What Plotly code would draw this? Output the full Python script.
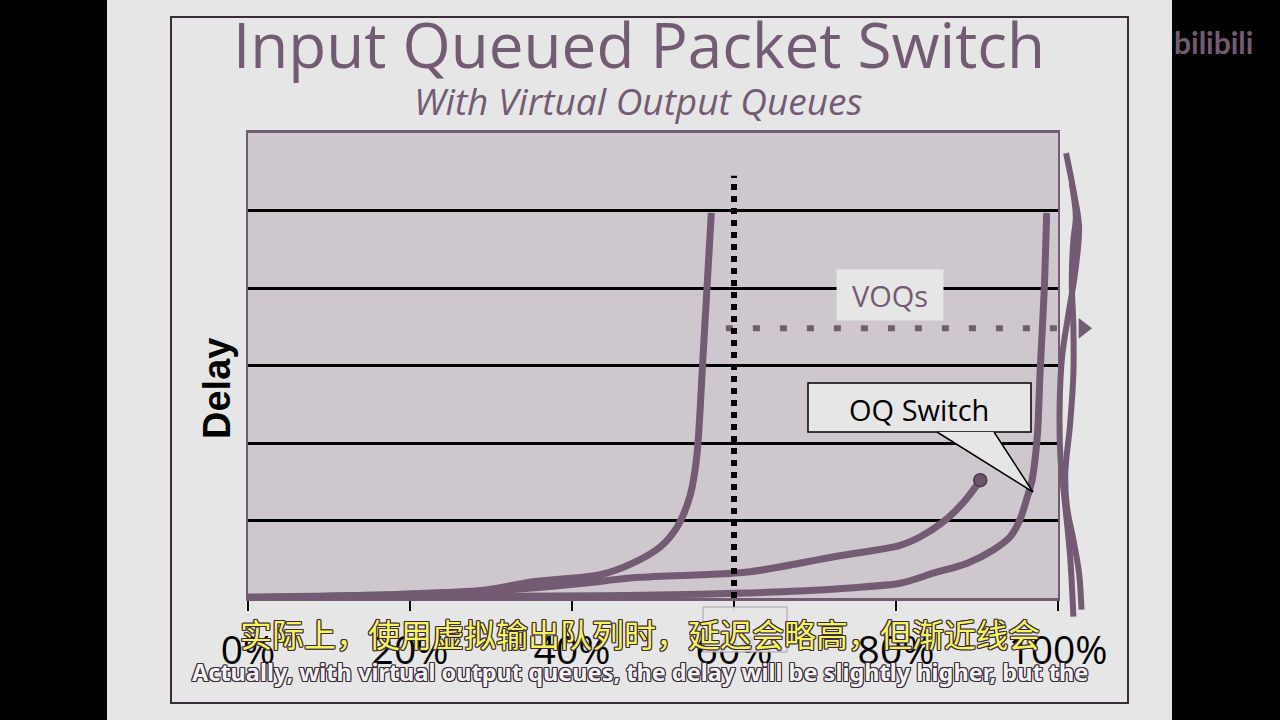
import plotly.graph_objects as go

W, H = 1280, 720
PURPLE = "#735c73"
SLIDE = "#e6e6e6"
PLOTBG = "#cec7ce"
OUTLINE = "#3a2a3a"

# ---------------- data ----------------
x_ticks = [0, 20, 40, 60, 80, 100]
x_tick_labels = ["0%", "20%", "40%", "60%", "80%", "100%"]
delay_grid = [1, 2, 3, 4, 5]

# Input queued switch with HOL blocking (load %, delay)
hol_load = [0, 18.8, 29.0, 35.2, 43.5, 47.5, 50.9, 53.0, 54.6, 55.4, 56.2, 57.2]
hol_delay = [0.01, 0.05, 0.10, 0.21, 0.30, 0.45, 0.66, 0.92, 1.33, 1.82, 3.16, 4.97]

# Input queued switch with virtual output queues
voq_load = [0, 18.8, 29.0, 35.2, 41.4, 47.5, 55.8, 62.0, 72.2, 80.5, 83.0, 85.8, 88.3, 89.8, 90.4]
voq_delay = [0.01, 0.04, 0.08, 0.13, 0.19, 0.26, 0.30, 0.34, 0.53, 0.68, 0.79, 0.98, 1.23, 1.43, 1.52]

# Output queued switch
oq_load = [0, 43.5, 55.8, 68.1, 74.3, 80.5, 84.6, 88.8, 92.0, 94.1, 95.3, 96.2, 96.8, 97.2, 97.5, 97.8, 98.3, 98.6]
oq_delay = [0.0, 0.03, 0.05, 0.09, 0.13, 0.19, 0.32, 0.45, 0.62, 0.79, 1.01, 1.30, 1.52, 1.82, 2.17, 2.94, 3.97, 4.97]

# 60% marker (dotted vertical line)
marker_load = 60
marker_top = 5.45

# VOQ asymptote arrow (dotted, drawn on the extended overlay axis)
voq_arrow_load = [59.0, 102.1]
voq_arrow_delay = [3.48, 3.48]
voq_arrow_head = [103.1]

# hand-drawn scribble strokes near 100%
scribble1_x = [101.0, 101.9, 102.6, 102.1, 101.3, 100.5, 100.2, 100.3, 100.9, 101.5, 101.9]
scribble1_y = [5.74, 5.26, 4.79, 4.19, 3.67, 3.11, 2.47, 1.82, 1.18, 0.53, -0.24]
scribble2_x = [101.7, 102.2, 101.9, 101.7, 101.9, 101.9, 101.5, 100.9, 101.1, 101.9, 102.6, 102.9]
scribble2_y = [5.35, 4.92, 4.62, 4.10, 3.50, 2.90, 2.25, 1.61, 1.18, 0.75, 0.32, -0.15]

# ---------------- layout helpers ----------------
def px(x):
    return x / W

def py(y):
    return 1 - y / H

PLOT_L, PLOT_R, PLOT_T, PLOT_B = 248, 1058, 133, 598
x_dom = [px(PLOT_L), px(PLOT_R)]
y_dom = [py(PLOT_B), py(PLOT_T)]
unit_x = (PLOT_R - PLOT_L) / 100.0
unit_y = (PLOT_B - PLOT_T) / 6.0

fig = go.Figure()

line_style = dict(color=PURPLE, width=7, shape="spline", smoothing=0.8)
fig.add_trace(go.Scatter(x=hol_load, y=hol_delay, mode="lines", line=line_style, name="Input queued"))
fig.add_trace(go.Scatter(x=voq_load, y=voq_delay, mode="lines", line=line_style, name="VOQs"))
fig.add_trace(go.Scatter(x=oq_load, y=oq_delay, mode="lines", line=line_style, name="OQ Switch"))
fig.add_trace(go.Scatter(x=voq_load[-1:], y=voq_delay[-1:], mode="markers",
                         marker=dict(size=13, color="#6a546a", line=dict(color="#4a3a4a", width=1.5)),
                         name="VOQ end"))

# extended overlay axis for things beyond 100%
fig.add_trace(go.Scatter(x=voq_arrow_load, y=voq_arrow_delay, mode="lines",
                         line=dict(color=PURPLE, width=6, dash="7px,20px"),
                         xaxis="x2", yaxis="y2"))
fig.add_trace(go.Scatter(x=voq_arrow_head, y=voq_arrow_delay[:1], mode="markers",
                         marker=dict(symbol="triangle-right", size=18, color=PURPLE),
                         xaxis="x2", yaxis="y2"))
for sx, sy in [(scribble1_x, scribble1_y), (scribble2_x, scribble2_y)]:
    fig.add_trace(go.Scatter(x=sx, y=sy, mode="lines",
                             line=dict(color=PURPLE, width=6, shape="spline"),
                             xaxis="x2", yaxis="y2"))

x2_max = (W - PLOT_L) / unit_x
y2_bottom_px = 640
y2_min = -(y2_bottom_px - PLOT_B) / unit_y

shapes = [
    dict(type="rect", xref="paper", yref="paper", x0=px(107), x1=px(1172), y0=0, y1=1,
         fillcolor=SLIDE, line=dict(width=0), layer="below"),
    dict(type="rect", xref="paper", yref="paper", x0=px(171), x1=px(1128), y0=py(703), y1=py(17),
         fillcolor=SLIDE, line=dict(color=OUTLINE, width=2), layer="below"),
    dict(type="rect", xref="x domain", yref="y domain", x0=0, x1=1, y0=0, y1=1,
         fillcolor=PLOTBG, line=dict(width=0), layer="below"),
    dict(type="line", xref="x", yref="y", x0=marker_load, x1=marker_load, y0=0, y1=marker_top,
         line=dict(color="black", width=6, dash="6px,6px"), layer="above"),
    dict(type="rect", xref="paper", yref="paper", x0=px(703), x1=px(787), y0=py(652), y1=py(607),
         fillcolor=SLIDE, opacity=0.93, line=dict(color="#a898a8", width=1), layer="above"),
    dict(type="rect", xref="paper", yref="paper", x0=px(808), x1=px(1031), y0=py(432), y1=py(383),
         fillcolor=SLIDE, line=dict(color="black", width=1.5), layer="above"),
    dict(type="path", xref="paper", yref="paper",
         path=f"M {px(937)},{py(432)} L {px(1033)},{py(492)} L {px(994)},{py(432)}",
         fillcolor=SLIDE, line=dict(color="black", width=1.5), layer="above"),
]

shadow = ", ".join(f"{a}px {b}px 0 {OUTLINE}" for a in (-1, 0, 1) for b in (-1, 0, 1) if a or b)

def label(text, x, y, **font):
    return dict(text=text, x=px(x), y=py(y), xref="paper", yref="paper", showarrow=False,
                xanchor="center", yanchor="middle", font=font)

annotations = [
    label("Input Queued Packet Switch", 639, 44, family="Open Sans", size=62, color=PURPLE),
    label("<i>With Virtual Output Queues</i>", 638, 101, family="Open Sans", size=37, color=PURPLE),
    label("OQ Switch", 919, 409, family="Open Sans", size=29, color="black"),
    label("bilibili", 1213, 42, family="Lato", size=30, color=PURPLE, weight="bold"),
    label("实际上，使用虚拟输出队列时，延迟会略高，但渐近线会", 640, 633,
          family="Noto Sans CJK SC", size=32, color="#f5f55a", shadow=shadow),
    label("<b>Actually, with virtual output queues, the delay will be slightly higher, but the</b>",
          640, 672, family="Noto Sans", size=23.5, color="#f2f2f2", shadow=shadow),
]
delay_title = label("<b>Delay</b>", 217, 389, family="Liberation Sans", size=38, color="black")
delay_title.update(textangle=-90)
annotations.append(delay_title)
voq_label = label("VOQs", 890, 295, family="Open Sans", size=29, color=PURPLE)
voq_label.update(width=106, height=50, bgcolor=SLIDE, borderpad=0)
annotations.append(voq_label)

fig.update_layout(
    width=W, height=H, margin=dict(l=0, r=0, t=0, b=0, autoexpand=False),
    paper_bgcolor="black", plot_bgcolor="rgba(0,0,0,0)",
    showlegend=False,
    shapes=shapes, annotations=annotations,
    xaxis=dict(domain=x_dom, range=[0, 100], tickvals=x_ticks, ticktext=x_tick_labels,
               ticks="outside", ticklen=10, tickwidth=2, tickcolor="black",
               showline=True, linecolor=PURPLE, linewidth=3, mirror=True,
               showgrid=False, zeroline=False, fixedrange=True, automargin=False,
               ticklabelstandoff=6,
               tickfont=dict(family="Open Sans", size=39, color="black")),
    yaxis=dict(domain=y_dom, range=[0, 6], tickvals=delay_grid, showticklabels=False,
               ticks="", showgrid=True, gridcolor="black", gridwidth=3,
               showline=True, linecolor=PURPLE, linewidth=2, mirror=True,
               zeroline=False, fixedrange=True, automargin=False),
    xaxis2=dict(domain=[px(PLOT_L), 1.0], range=[0, x2_max], anchor="y2", visible=False,
                fixedrange=True, automargin=False),
    yaxis2=dict(domain=[py(y2_bottom_px), py(PLOT_T)], range=[y2_min, 6], anchor="x2",
                visible=False, fixedrange=True, automargin=False),
)

fig.write_html("out.html")
